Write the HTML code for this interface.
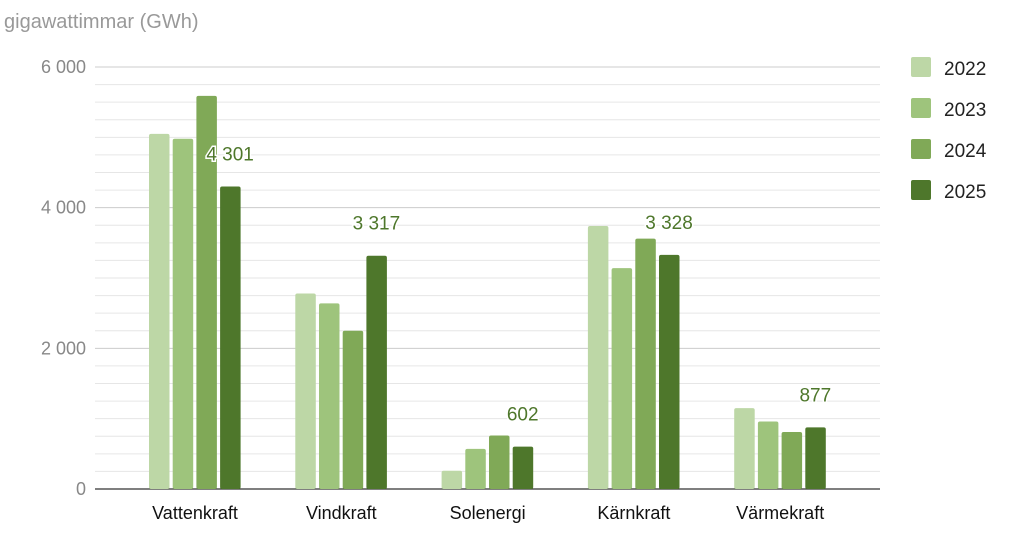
<!DOCTYPE html>
<html><head><meta charset="utf-8"><style>
body{margin:0;background:#fff;font-family:"Liberation Sans",sans-serif;}
svg{display:block}
</style></head><body>
<svg id="chart" width="1024" height="555">
<text x="4" y="28" font-size="20" fill="#999">gigawattimmar (GWh)</text>
<g id="grid"></g><g id="bars"></g><g id="labels"></g><g id="legend"></g>
</svg>
<script>
const categories=["Vattenkraft","Vindkraft","Solenergi","Kärnkraft","Värmekraft"];
const years=["2022","2023","2024","2025"];
const s2022=[5050,2780,260,3740,1150];
const s2023=[4980,2640,570,3140,960];
const s2024=[5590,2250,760,3560,810];
const s2025=[4301,3317,602,3328,877];
const labels2025=["4 301","3 317","602","3 328","877"];
const yTicks=[0,2000,4000,6000];
const yTickLabels=["0","2 000","4 000","6 000"];
const colors=["#bdd7a6","#9ec47c","#80a957","#4e772b"];
const series=[s2022,s2023,s2024,s2025];
const NS="http://www.w3.org/2000/svg";
const x0=95,x1=880,y0=489,yTop=67,ymax=6000;
const y=v=>y0-(v/ymax)*(y0-yTop);
const gw=146.3;
const cx=i=>195+gw*i;
function mk(t,a,p){const e=document.createElementNS(NS,t);for(const k in a)e.setAttribute(k,a[k]);p.appendChild(e);return e;}
const grid=document.getElementById('grid');
for(let v=0;v<=ymax;v+=250){
 const l=mk('line',{x1:x0,x2:x1,y1:y(v),y2:y(v),stroke:v%2000==0?(v==0?'#333':'#ccc'):'#e6e6e6','stroke-width':v==0?1.3:1},grid);
 
 
}
yTicks.forEach((v,i)=>{
 const t=mk('text',{x:86,y:y(v)+6,'text-anchor':'end','font-size':18,fill:'#888'},grid);
 t.textContent=yTickLabels[i];
 
 
});
const bars=document.getElementById('bars');const lab=document.getElementById('labels');
categories.forEach((c,i)=>{
 series.forEach((s,j)=>{
  const bx=cx(i)-46+j*23.7;
  const r=mk('rect',{x:bx,y:y(s[i]),width:20.5,height:y0-y(s[i]),rx:2,fill:colors[j]},bars);
  
  
 });
 const t=mk('text',{x:cx(i),y:519,'text-anchor':'middle','font-size':18,fill:'#111'},lab);
 t.textContent=c;
 
 
 const vl=mk('text',{x:cx(i)-46+3*23.7+10,y:y(s2025[i])-26,'text-anchor':'middle','font-size':19,fill:'#4e772b',stroke:'#fff','stroke-width':3,'paint-order':'stroke'},lab);
 vl.textContent=labels2025[i];
 
 
});
const lg=document.getElementById('legend');
years.forEach((yr,j)=>{
 const g=mk('g',{},lg);
 
 
 mk('rect',{x:911,y:57+j*41,width:20,height:20,rx:2,fill:colors[j]},g);
 const t=mk('text',{x:944,y:75+j*41,'font-size':19,fill:'#222'},g);
 t.textContent=yr;
});
</script>
</body></html>
